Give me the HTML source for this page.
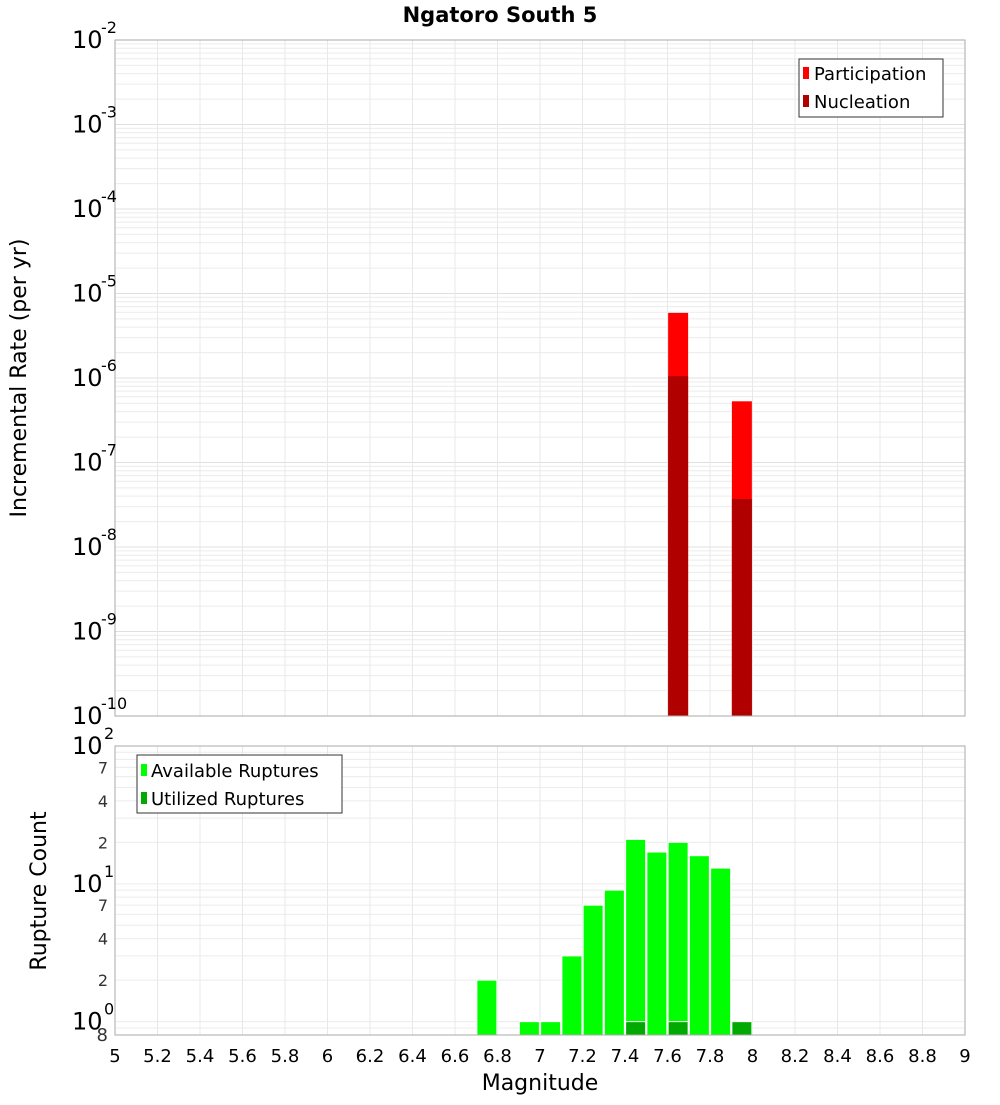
<!DOCTYPE html>
<html><head><meta charset="utf-8"><style>
body{margin:0;background:#fff;font-family:"Liberation Sans","DejaVu Sans",sans-serif;}
svg text{font-family:"DejaVu Sans","Liberation Sans",sans-serif;}
</style></head><body>
<svg id="chart" width="1000" height="1100" xmlns="http://www.w3.org/2000/svg">
<text x="500" y="22" text-anchor="middle" font-size="21" font-weight="bold">Ngatoro South 5</text>
<g id="topg"></g><g id="botg"></g>
<text transform="translate(26,378) rotate(-90)" text-anchor="middle" font-size="22">Incremental Rate (per yr)</text>
<text transform="translate(46,891) rotate(-90)" text-anchor="middle" font-size="22">Rupture Count</text>
<text x="540" y="1090" text-anchor="middle" font-size="22">Magnitude</text>
<g>
<rect x="799" y="59" width="144" height="58" fill="#fff" stroke="#333"/>
<rect x="803" y="67" width="6" height="12" fill="#ff0000"/><text x="814" y="80" font-size="18">Participation</text>
<rect x="803" y="95" width="6" height="12" fill="#b00000"/><text x="814" y="108" font-size="18">Nucleation</text>
</g>
<g>
<rect x="137" y="755" width="205" height="58" fill="#fff" stroke="#333"/>
<rect x="141" y="764" width="6" height="12" fill="#00ff00"/><text x="151" y="777" font-size="18">Available Ruptures</text>
<rect x="141" y="792" width="6" height="12" fill="#00aa00"/><text x="151" y="805" font-size="18">Utilized Ruptures</text>
</g>
</svg>
<script>
const mags=[7.65,7.95];
const participation=[5.9e-6,5.3e-7];
const nucleation=[1.05e-6,3.7e-8];
const countMags=[6.75,6.95,7.05,7.15,7.25,7.35,7.45,7.55,7.65,7.75,7.85];
const available=[2,1,1,3,7,9,21,17,20,16,13];
const utilMags=[7.45,7.65,7.95];
const utilized=[1,1,1];
const xTicks=[5,5.2,5.4,5.6,5.8,6,6.2,6.4,6.6,6.8,7,7.2,7.4,7.6,7.8,8,8.2,8.4,8.6,8.8,9];
const NS="http://www.w3.org/2000/svg";
const X0=115,X1=965;
const xs=m=>X0+(m-5)/4*(X1-X0);
const T0=40,T1=716,yt=v=>T1-(Math.log10(v)+10)/8*(T1-T0);
const B0=746,B1=1035,lo=Math.log10(0.8),yb=v=>B1-(Math.log10(v)-lo)/(2-lo)*(B1-B0);
const svg=document.getElementById('chart');
function mk(tag,attrs,parent,txt){const e=document.createElementNS(NS,tag);for(const k in attrs)e.setAttribute(k,attrs[k]);if(txt!==undefined)e.textContent=txt;(parent||svg).appendChild(e);return e;}
const topG=document.getElementById('topg'),botG=document.getElementById('botg');
for(let d=-10;d<-2;d++)for(let k=1;k<10;k++){const y=yt(k*Math.pow(10,d));const l=mk('line',{x1:X0,x2:X1,y1:y,y2:y,stroke:k==1?'#e0e0e0':'#ececec','stroke-width':1},topG);

}
for(let d=-1;d<2;d++)for(let k=1;k<10;k++){const v=k*Math.pow(10,d);if(v<0.8||v>100)continue;const y=yb(v);const l=mk('line',{x1:X0,x2:X1,y1:y,y2:y,stroke:'#ececec'},botG);

}
xTicks.forEach(t=>{const x=xs(t);
const a=mk('line',{x1:x,x2:x,y1:T0,y2:T1,stroke:'#e8e8e8'},topG);


const b=mk('line',{x1:x,x2:x,y1:B0,y2:B1,stroke:'#e8e8e8'},botG);


const tl=mk('text',{x:x,y:1062,'text-anchor':'middle','font-size':18},svg,String(t));

});
mags.forEach((m,i)=>{const x=xs(m)-10;
const p=mk('rect',{x:x,y:yt(participation[i]),width:20,height:T1-yt(participation[i]),fill:'#ff0000'},topG);


const n=mk('rect',{x:x,y:yt(nucleation[i]),width:20,height:T1-yt(nucleation[i]),fill:'#b00000'},topG);

});
countMags.forEach((m,i)=>{const y=yb(available[i]);
const r=mk('rect',{x:xs(m)-10,y:y,width:20,height:B1-y,fill:'#00ff00',stroke:'#fff','stroke-width':1},botG);

});
utilMags.forEach((m,i)=>{const y=yb(utilized[i]);
const r=mk('rect',{x:xs(m)-10,y:y,width:20,height:B1-y,fill:'#00aa00',stroke:'#fff','stroke-width':1},botG);

});
const f1=mk('rect',{x:X0,y:T0,width:X1-X0,height:T1-T0,fill:'none',stroke:'#aaa'});


const f2=mk('rect',{x:X0,y:B0,width:X1-X0,height:B1-B0,fill:'none',stroke:'#aaa'});


for(let d=-10;d<=-2;d++){const y=yt(Math.pow(10,d));const g=mk('g',{});


mk('text',{x:72,y:y+8,'font-size':24},g,'10');mk('text',{x:101,y:y-7,'font-size':16},g,String(d));}
[[100,'2'],[10,'1'],[1,'0']].forEach(([v,e])=>{const y=yb(v);const g=mk('g',{});


mk('text',{x:72,y:y+8,'font-size':24},g,'10');mk('text',{x:104,y:y-7,'font-size':16},g,e);});
[[7,'7'],[4,'4'],[2,'2'],[70,'7'],[40,'4'],[20,'2'],[0.8,'8']].forEach(([v,s])=>{const y=yb(v);
const t=mk('text',{x:108,y:y+6,'text-anchor':'end','font-size':v==0.8?18:16,fill:'#333'},svg,s);

});
</script>
</body></html>
